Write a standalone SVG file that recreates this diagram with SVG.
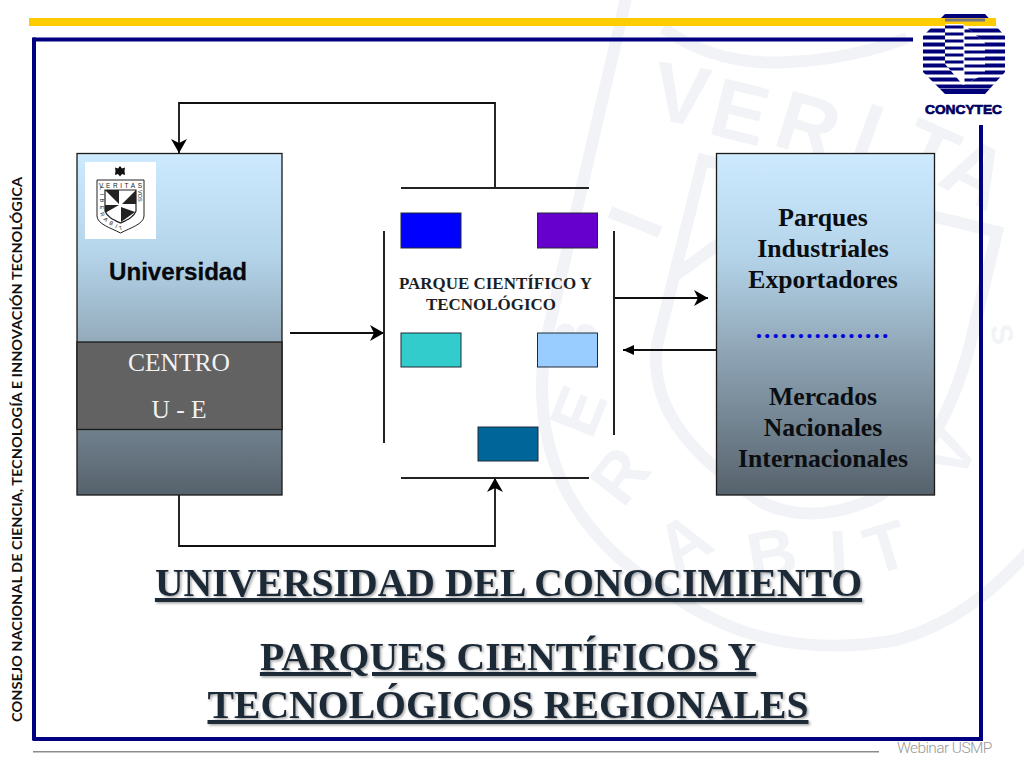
<svg xmlns="http://www.w3.org/2000/svg" width="1024" height="768" viewBox="0 0 1024 768">
<style>
.wm{font-family:"Liberation Sans",Arial,sans-serif;font-weight:bold;font-size:84px;fill:#f1f3f7;text-anchor:middle}
.wl{fill:none;stroke:#f1f3f7;stroke-width:12}
.frame{fill:#000080}
.conn{fill:none;stroke:#111;stroke-width:1.8}
.bar{stroke:#222;stroke-width:2;fill:none}
.box{stroke:#1a1a1a;stroke-width:1.3}
.small{stroke:#1f2a37;stroke-width:1}
.ser{font-family:"Liberation Serif","Times New Roman",serif}
.rb{font-size:25.700px;font-weight:bold;fill:#0a0d12;text-anchor:middle}
.ttl{font-size:39.700px;font-weight:bold;fill:#1f2a37;text-anchor:middle;text-decoration:underline;filter:url(#sh)}
.pq{font-size:16.800px;font-weight:bold;fill:#1a1f26}
.ce{font-size:25.500px;fill:#f2f2f2;text-anchor:middle}
.sl{font-family:"Liberation Sans",Arial,sans-serif;font-size:6.500px;fill:#222}
</style>
<defs>
<linearGradient id="g" x1="0" y1="0" x2="0" y2="1">
<stop offset="0" stop-color="#cdeaff"/><stop offset=".3" stop-color="#b4d4ea"/><stop offset=".55" stop-color="#93aabb"/><stop offset="1" stop-color="#56626c"/>
</linearGradient>
<marker id="ah" markerUnits="userSpaceOnUse" markerWidth="20" markerHeight="20" refX="14" refY="8" orient="auto">
<path d="M0 0L14 8L0 16L4 8Z" fill="#000"/>
</marker>
<marker id="ahs" markerUnits="userSpaceOnUse" markerWidth="16" markerHeight="14" refX="11" refY="5" orient="auto">
<path d="M0 0L11 5L0 10Z" fill="#000"/>
</marker>
<filter id="sh" x="-5%" y="-20%" width="110%" height="150%">
<feDropShadow dx="1.500" dy="1.500" stdDeviation="1" flood-color="#000" flood-opacity=".35"/>
</filter>
<clipPath id="oct"><path d="M945 14H985L1005 36V72L985 94H945L923 72V36Z"/></clipPath>
<clipPath id="inn"><path d="M945 24H963L985 43V74L963 85L945 64Z"/></clipPath>
</defs>
<rect width="1024" height="768" fill="#fff"/>
<g id="watermark">
<path class="wl" d="M628 -10L545 345C530 450 570 540 680 600C740 640 810 655 897 640C950 625 990 595 1030 550"/>
<path class="wl" d="M703 160L657 345C650 400 680 450 763 503C800 520 840 515 877 497C915 475 950 420 970 345L997 232Z"/>
<path class="wl" d="M663 28C700 55 745 65 790 62C830 60 870 52 907 38"/>
<path class="wl" d="M610 212L660 232M673 277L720 243"/>
<text class="wm" transform="translate(677 123) rotate(9)">V</text>
<text class="wm" transform="translate(733 140) rotate(14)">E</text>
<text class="wm" transform="translate(800 153) rotate(17)">R</text>
<text class="wm" transform="translate(858 160) rotate(20)">I</text>
<text class="wm" transform="translate(918 180) rotate(24)">T</text>
<text class="wm" transform="translate(962 198) rotate(28)">A</text>
<text class="wm" style="font-size:30px" transform="translate(992 336) rotate(80)">S</text>
<text class="wm" style="font-size:62px" transform="translate(596 345) rotate(-82)">B</text>
<text class="wm" style="font-size:68px" transform="translate(600 420) rotate(-68)">E</text>
<text class="wm" style="font-size:68px" transform="translate(638 490) rotate(-52)">R</text>
<text class="wm" style="font-size:68px" transform="translate(696 562) rotate(-32)">A</text>
<text class="wm" style="font-size:68px" transform="translate(776 577) rotate(-10)">B</text>
<text class="wm" style="font-size:68px" transform="translate(840 578) rotate(-3)">I</text>
<text class="wm" style="font-size:68px" transform="translate(893 570) rotate(-17)">T</text>
<text class="wm" style="font-size:68px" transform="translate(970 464) rotate(-62)">V</text>
</g>
<g id="frame">
<rect x="29" y="18" width="967" height="8" fill="#ffcc00"/>
<rect class="frame" x="33" y="37.500" width="880" height="4"/>
<rect class="frame" x="32" y="37.500" width="4" height="703"/>
<rect class="frame" x="33" y="737" width="950" height="4"/>
<rect class="frame" x="979" y="125" width="4" height="616"/>
<rect x="33" y="751" width="846" height="1.500" fill="#8c8c8c"/>
<text x="897" y="753" font-family="Roboto,Inter,sans-serif" font-size="15.500" font-weight="300" fill="#9a9a9a" letter-spacing="-.6">Webinar USMP</text>
<text transform="translate(22 722) rotate(-90)" font-family="Lato,'Open Sans',sans-serif" font-size="14" font-weight="bold" fill="#111" textLength="545" lengthAdjust="spacingAndGlyphs">CONSEJO NACIONAL DE CIENCIA, TECNOLOGÍA E INNOVACIÓN TECNOLÓGICA</text>
</g>
<g id="concytec">
<g clip-path="url(#oct)">
<path d="M923 16H1005M923 30.500H1005M923 37.500H1005M923 44.500H1005M923 51.500H1005M923 58.500H1005M923 65.500H1005M923 72.500H1005M923 79.500H1005M923 86.500H1005" stroke="#00007a" stroke-width="3.800"/>
<rect x="945" y="18.500" width="40" height="3" fill="#777780"/>
<rect x="923" y="89" width="82" height="5" fill="#00007a"/>
</g>
<g clip-path="url(#inn)">
<rect x="945" y="24" width="40" height="61" fill="#fff"/>
<path d="M945 27H963.500M945 34H963.500M945 41H963.500M945 48H963.500M945 55H963.500M945 62H963.500M945 69H963.500" stroke="#00007a" stroke-width="2.800"/>
<path d="M964.500 31H985M964.500 38H985M964.500 45H985M964.500 52H985M964.500 59H985M964.500 66H985M964.500 73H985M964.500 80H985" stroke="#00007a" stroke-width="2.800"/>
</g>
<text x="963.500" y="113.500" font-family="'Liberation Sans',Arial,sans-serif" font-size="13.500" font-weight="bold" fill="#00005f" stroke="#00005f" stroke-width=".7" text-anchor="middle" textLength="77" lengthAdjust="spacingAndGlyphs">CONCYTEC</text>
</g>
<g id="connectors">
<path class="conn" d="M495 188V103H179V153" marker-end="url(#ah)"/>
<path class="conn" d="M179 495V546H495V478" marker-end="url(#ah)"/>
<path class="conn" d="M290 333H384" marker-end="url(#ah)"/>
<path class="conn" d="M614 298H708" marker-end="url(#ah)"/>
<path class="conn" d="M716 350H623" marker-end="url(#ahs)"/>
</g>
<g id="universidad">
<rect class="box" x="77" y="153.500" width="205" height="341.500" fill="url(#g)"/>
<rect x="85" y="162" width="71" height="77" fill="#fff"/>
<g id="seal">
<path d="M120 166L122 168.500L125 167.500L124.500 171L125 175L122 174L120 176.500L118 174L115 175L115.500 171L115 167.500L118 168.500Z" fill="#111"/>
<path d="M97 180H144V216C144 224 130 228 120.500 233C111 228 97 224 97 216Z" fill="#fff" stroke="#222" stroke-width="1"/>
<path d="M105 190H136V211C134 217 127 220 120.500 223C114 220 107 217 105 211Z" fill="#fff" stroke="#222" stroke-width="1.200"/>
<path d="M105 190L119 204V190ZM136 190L122 204H136ZM105 213L119 205H105ZM121 222V207L135 212Z" fill="#222"/>
<path id="s1" d="M99 188H144" fill="none"/>
<path id="s2" d="M138 190V216" fill="none"/>
<path id="s3" d="M100 187V212C101 222 112 226 121 230C128 227 134 224 138 218" fill="none"/>
<text class="sl"><textPath href="#s1" textLength="43">VERITAS</textPath></text>
<text class="sl" style="font-size:5.500px"><textPath href="#s2">VOS</textPath></text>
<text class="sl" style="font-size:5.500px"><textPath href="#s3" textLength="56">LIBERABIT</textPath></text>
</g>
<text x="178" y="280" font-family="'Liberation Sans',Arial,sans-serif" font-size="24.500" font-weight="bold" fill="#06080c" stroke="#06080c" stroke-width=".3" text-anchor="middle" textLength="138" lengthAdjust="spacingAndGlyphs">Universidad</text>
<rect class="box" x="77" y="342" width="205" height="87.500" fill="#626262"/>
<text class="ser ce" x="179" y="371">CENTRO</text>
<text class="ser ce" x="179" y="418">U - E</text>
</g>
<g id="parque">
<path class="bar" d="M401 188H589M401 478H589M384 231V443M614 231V435"/>
<rect class="small" x="401" y="213" width="60" height="35" fill="#0000ff"/>
<rect class="small" x="537.500" y="213" width="60" height="35" fill="#6600cc"/>
<rect class="small" x="401" y="333" width="60" height="34" fill="#33cccc"/>
<rect class="small" x="537.500" y="333" width="60" height="34" fill="#99ccff"/>
<rect class="small" x="478" y="427" width="60" height="34" fill="#006699"/>
<text class="ser pq" x="399" y="289" textLength="193" lengthAdjust="spacingAndGlyphs">PARQUE CIENTÍFICO Y</text>
<text class="ser pq" x="426" y="310" textLength="130" lengthAdjust="spacingAndGlyphs">TECNOLÓGICO</text>
</g>
<g id="parques">
<rect class="box" x="716.500" y="153.500" width="218" height="341.500" fill="url(#g)"/>
<text class="ser rb" x="823" y="226">Parques</text>
<text class="ser rb" x="823" y="257">Industriales</text>
<text class="ser rb" x="823" y="288">Exportadores</text>
<text class="ser rb" x="823" y="338" style="fill:#0000e0" letter-spacing="2">................</text>
<text class="ser rb" x="823" y="405">Mercados</text>
<text class="ser rb" x="823" y="436">Nacionales</text>
<text class="ser rb" x="823" y="467">Internacionales</text>
</g>
<g id="titles">
<text class="ser ttl" x="508.500" y="596">UNIVERSIDAD DEL CONOCIMIENTO</text>
<text class="ser ttl" x="508" y="670">PARQUES CIENTÍFICOS Y</text>
<text class="ser ttl" x="508" y="718">TECNOLÓGICOS REGIONALES</text>
</g>
</svg>
